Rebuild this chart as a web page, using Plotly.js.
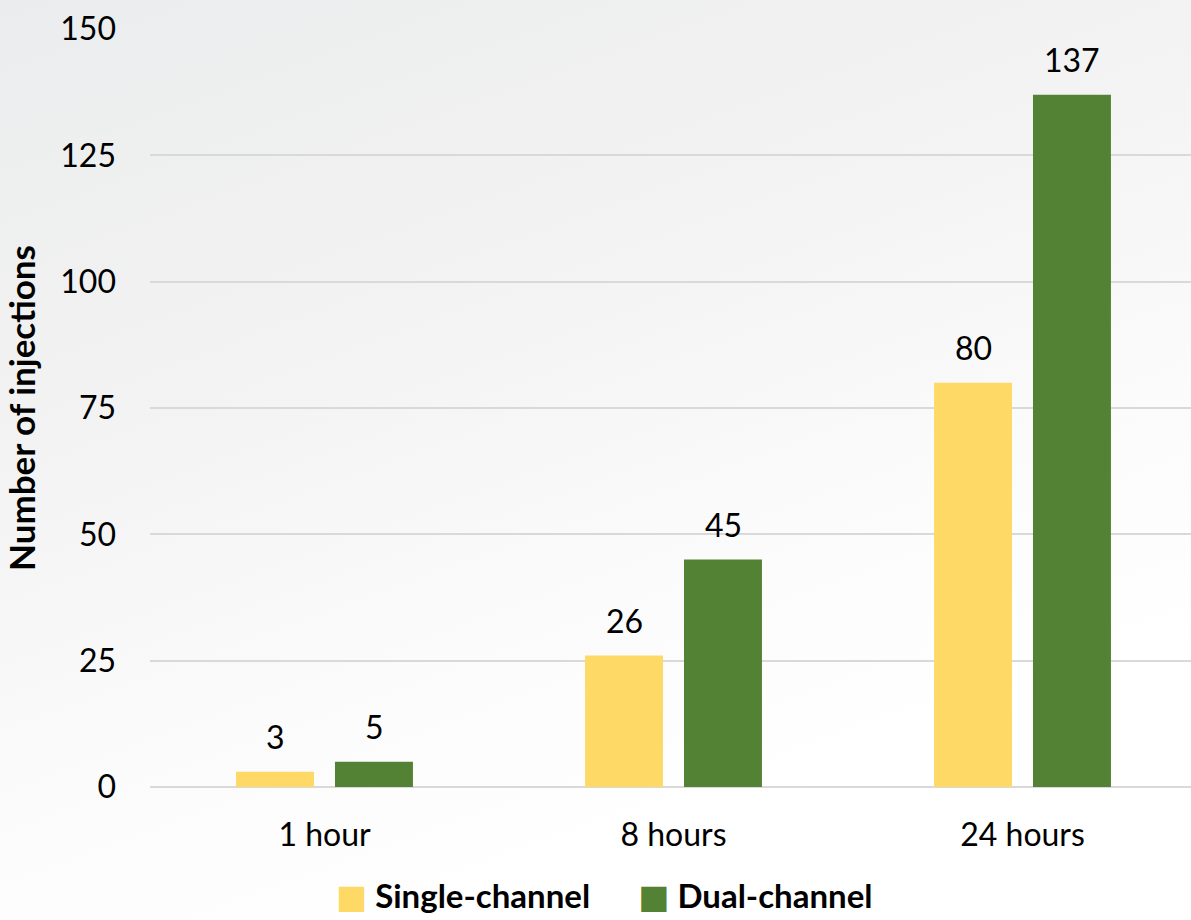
<!DOCTYPE html>
<html>
<head>
<meta charset="utf-8">
<script src="https://cdn.plot.ly/plotly-3.0.1.min.js"></script>
<style>
  html, body { margin: 0; padding: 0; overflow: hidden; }
  body {
    width: 1191px; height: 920px;
    background: linear-gradient(160deg, #ebeced 0%, #f3f3f3 35%, #fbfbfb 60%, #ffffff 80%);
  }
  #chart { width: 1197px; height: 920px; }
</style>
</head>
<body>
<div id="chart"></div>
<script>
// Injection counts per time window
const categories = ['1 hour', '8 hours', '24 hours'];
const singleChannel = [3, 26, 80];
const dualChannel = [5, 45, 137];
const seriesNames = ['Single-channel', 'Dual-channel'];
const seriesColors = ['#FFD966', '#548235'];
const yTicks = [0, 25, 50, 75, 100, 125, 150];

const FONT = 'Lato, "Open Sans", sans-serif';

const traces = [singleChannel, dualChannel].map((vals, i) => ({
  type: 'bar',
  name: seriesNames[i],
  x: categories,
  y: vals,
  marker: { color: seriesColors[i] },
  hoverinfo: 'x+y+name',
  showlegend: false
}));

// Value labels sitting above each bar (offset to the left/right bar in the group)
const slotPx = 49.5;
const labels = [];
[singleChannel, dualChannel].forEach((vals, i) => {
  vals.forEach((v, j) => {
    labels.push({
      x: categories[j], y: v, xref: 'x', yref: 'y',
      text: String(v), showarrow: false,
      xshift: i === 0 ? -slotPx : slotPx, yshift: 14,
      yanchor: 'bottom', xanchor: 'center',
      font: { family: FONT, size: 32, color: '#000' }
    });
  });
});

// Legend row drawn as text with coloured squares
labels.push({
  xref: 'paper', yref: 'paper', x: 0.434, y: -0.1425,
  xanchor: 'center', yanchor: 'middle', showarrow: false,
  text: '<span style="color:' + seriesColors[0] + ';font-family:DejaVu Sans">■</span> ' + seriesNames[0] +
        '      <span style="color:' + seriesColors[1] + ';font-family:DejaVu Sans">■</span> ' + seriesNames[1],
  font: { family: FONT, size: 33, color: '#000', weight: 'bold' }
});

const layout = {
  width: 1197, height: 920,
  margin: { l: 150, r: 0, t: 29, b: 133 },
  paper_bgcolor: 'rgba(0,0,0,0)',
  plot_bgcolor: 'rgba(0,0,0,0)',
  barmode: 'group',
  bargap: 0.433,
  bargroupgap: 0.212,
  font: { family: FONT, size: 32, color: '#000' },
  xaxis: {
    type: 'category',
    showgrid: false, zeroline: false, showline: false,
    ticks: '', ticklabelstandoff: 26,
    tickfont: { family: FONT, size: 32, color: '#000' }
  },
  yaxis: {
    range: [0, 150], tickvals: yTicks,
    showgrid: true, gridcolor: '#d9d9d9', gridwidth: 2,
    zeroline: true, zerolinecolor: '#d9d9d9', zerolinewidth: 2,
    showline: false, ticks: '', ticklabelstandoff: 33,
    tickfont: { family: FONT, size: 32, color: '#000' },
    title: {
      text: 'Number of injections', standoff: 14,
      font: { family: FONT, size: 35, color: '#000', weight: 'bold' }
    }
  },
  annotations: labels
};

Plotly.newPlot('chart', traces, layout, { displayModeBar: false, staticPlot: true });
</script>
</body>
</html>
